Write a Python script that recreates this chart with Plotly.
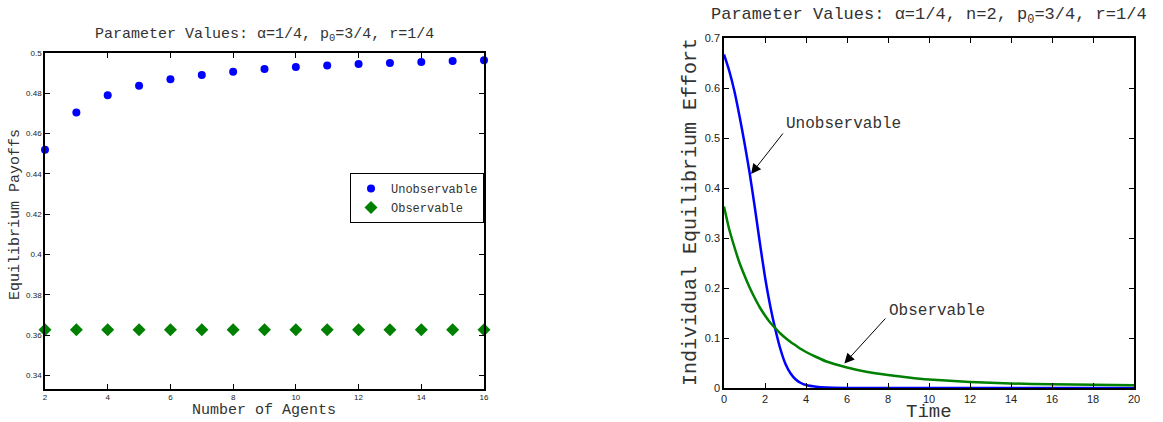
import plotly.graph_objects as go

# ---- Left panel data ----
agents = [2, 3, 4, 5, 6, 7, 8, 9, 10, 11, 12, 13, 14, 15, 16]
payoff_unobs = [0.452, 0.4705, 0.479, 0.4838, 0.4870, 0.4891, 0.4907, 0.4920, 0.4930,
                0.4938, 0.4945, 0.4950, 0.4955, 0.4960, 0.4964]
payoff_obs = [0.3627] * 15

# ---- Right panel data ----
time_pts = [0, 0.25, 0.5, 0.75, 1.0, 1.25, 1.5, 1.75, 2.0, 2.25, 2.5, 2.75, 3.0, 3.25,
            3.5, 3.75, 4.0, 4.5, 5.0, 6, 7, 8, 9, 10, 12, 14, 16, 18, 20]
effort_unobs = [0.667, 0.635, 0.595, 0.545, 0.49, 0.43, 0.362, 0.29, 0.222, 0.165, 0.118,
                0.078, 0.048, 0.029, 0.017, 0.010, 0.006, 0.0025, 0.001, 0.0002, 0, 0, 0,
                0, 0, 0, 0, 0, 0]
effort_obs = [0.363, 0.318, 0.283, 0.251, 0.225, 0.201, 0.180, 0.161, 0.145, 0.131, 0.120,
              0.109, 0.100, 0.092, 0.085, 0.078, 0.072, 0.062, 0.053, 0.041, 0.032, 0.026,
              0.021, 0.017, 0.012, 0.009, 0.0075, 0.0065, 0.0055]

BLUE = "#0000ff"
GREEN = "#008000"
MONO = "Liberation Mono, Courier New, monospace"
SANS = "Liberation Sans, Arial, sans-serif"
W, H = 1163, 422

def px(x):
    return x / W

def py(y):
    return 1 - y / H

fig = go.Figure()
fig.add_trace(go.Scatter(x=agents, y=payoff_unobs, mode="markers", name="Unobservable",
                         marker=dict(color=BLUE, size=8, symbol="circle"),
                         xaxis="x", yaxis="y", cliponaxis=False))
fig.add_trace(go.Scatter(x=agents, y=payoff_obs, mode="markers", name="Observable",
                         marker=dict(color=GREEN, size=10, symbol="diamond"),
                         xaxis="x", yaxis="y", cliponaxis=False))
fig.add_trace(go.Scatter(x=time_pts, y=effort_unobs, mode="lines",
                         line=dict(color=BLUE, width=2.5, shape="spline", smoothing=0.6),
                         showlegend=False, xaxis="x2", yaxis="y2"))
fig.add_trace(go.Scatter(x=time_pts, y=effort_obs, mode="lines",
                         line=dict(color=GREEN, width=2.5, shape="spline", smoothing=0.6),
                         showlegend=False, xaxis="x2", yaxis="y2"))

axis_common = dict(showline=True, linecolor="black", linewidth=1.5, mirror="ticks",
                   ticks="inside", ticklen=5, tickcolor="black", showgrid=False,
                   zeroline=False, automargin=False)

fig.update_layout(
    width=W, height=H,
    margin=dict(l=0, r=0, t=0, b=0, autoexpand=False),
    paper_bgcolor="white", plot_bgcolor="white",
    xaxis=dict(domain=[px(45), px(484)], range=[2, 16], tickvals=list(range(2, 17, 2)),
               tickfont=dict(family=SANS, size=8, color="#222"),
               anchor="y", **axis_common),
    yaxis=dict(domain=[py(389), py(53)], range=[0.3333, 0.5],
               tickvals=[0.34, 0.36, 0.38, 0.40, 0.42, 0.44, 0.46, 0.48, 0.50],
               tickfont=dict(family=SANS, size=8, color="#222"),
               anchor="x", **axis_common),
    xaxis2=dict(domain=[px(724), px(1134)], range=[0, 20], tickvals=list(range(0, 21, 2)),
                tickfont=dict(family=SANS, size=11, color="#222"),
                anchor="y2", **axis_common),
    yaxis2=dict(domain=[py(388), py(38)], range=[0, 0.7],
                tickvals=[0, 0.1, 0.2, 0.3, 0.4, 0.5, 0.6, 0.7],
                tickfont=dict(family=SANS, size=11, color="#222"),
                anchor="x2", **axis_common),
    legend=dict(x=px(484), xanchor="right", y=py(173), yanchor="top",
                bordercolor="black", borderwidth=1, bgcolor="white",
                font=dict(family=MONO, size=12, color="#333"), tracegroupgap=0,
                itemwidth=30),
    showlegend=True,
)

annotations = [
    dict(text="Parameter Values: \u03b1=1/4, p<sub>0</sub>=3/4, r=1/4", xref="paper", yref="paper",
         x=px(264.5), y=py(35), xanchor="center", yanchor="middle", showarrow=False,
         font=dict(family=MONO, size=15, color="#333")),
    dict(text="Parameter Values: \u03b1=1/4, n=2, p<sub>0</sub>=3/4, r=1/4", xref="paper", yref="paper",
         x=px(929), y=py(16), xanchor="center", yanchor="middle", showarrow=False,
         font=dict(family=MONO, size=17, color="#333")),
    # axis titles
    dict(text="Number of Agents", xref="paper", yref="paper", x=px(264), y=py(410),
         xanchor="center", yanchor="middle", showarrow=False,
         font=dict(family=MONO, size=15, color="#333")),
    dict(text="Equilibrium Payoffs", xref="paper", yref="paper", x=px(15), y=py(215),
         xanchor="center", yanchor="middle", showarrow=False, textangle=-90,
         font=dict(family=MONO, size=15, color="#333")),
    dict(text="Time", xref="paper", yref="paper", x=px(929), y=py(412),
         xanchor="center", yanchor="middle", showarrow=False, borderpad=0,
         font=dict(family=MONO, size=19, color="#333")),
    dict(text="Individual Equilibrium Effort", xref="paper", yref="paper", x=px(690), y=py(212),
         xanchor="center", yanchor="middle", showarrow=False, textangle=-90,
         font=dict(family=MONO, size=20, color="#333")),
    # Right panel labels
    dict(text="Unobservable", xref="x2", yref="y2", x=2.93, y=0.528, xanchor="left", yanchor="middle",
         showarrow=False, font=dict(family=MONO, size=16, color="#333")),
    dict(text="", xref="x2", yref="y2", x=1.32, y=0.428, axref="x2", ayref="y2", ax=2.93, ay=0.512,
         showarrow=True, arrowhead=2, arrowsize=2, arrowwidth=1, arrowcolor="black"),
    dict(text="Observable", xref="x2", yref="y2", x=7.94, y=0.154, xanchor="left", yanchor="middle",
         showarrow=False, font=dict(family=MONO, size=16, color="#333")),
    dict(text="", xref="x2", yref="y2", x=5.87, y=0.049, axref="x2", ayref="y2", ax=7.94, ay=0.142,
         showarrow=True, arrowhead=2, arrowsize=2, arrowwidth=1, arrowcolor="black"),
]
fig.update_layout(annotations=annotations)

fig.write_html("out.html", config={"displayModeBar": False},
               post_script="document.body.style.margin='0';document.body.style.overflow='hidden';")
